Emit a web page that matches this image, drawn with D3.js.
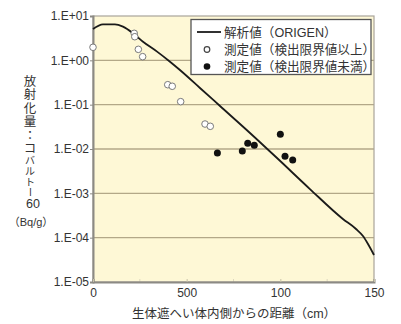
<!DOCTYPE html>
<html><head><meta charset="utf-8">
<script src="https://cdn.jsdelivr.net/npm/d3@7"></script>
<style>
html,body{margin:0;padding:0;background:#fff;}
svg text{font-family:"Liberation Sans","Noto Sans CJK JP",Arial,sans-serif;fill:#333;}
</style></head>
<body>
<svg id="chart" width="401" height="324"></svg>
<script>
// ---- data ----
const xTickValues = [0, 50, 100, 150];
const xTickLabels = ["0", "500", "100", "150"];
const yTickValues = [1e1, 1e0, 1e-1, 1e-2, 1e-3, 1e-4, 1e-5];
const yTickLabels = ["1.E+01", "1.E+00", "1.E-01", "1.E-02", "1.E-03", "1.E-04", "1.E-05"];

// analytical (ORIGEN) curve
const calcX = [0, 5.3, 11.7, 16, 21.4, 26.7, 34.2, 41.1, 46.4, 57.1, 67.8, 83.8, 98.8, 115.8, 133.4, 140.4, 144.1, 146.8, 150];
const calcY = [5.09, 6.5, 6.5, 5.74, 4.07, 2.63, 1.57, 0.93, 0.605, 0.238, 0.0933, 0.023, 0.00594, 0.00125, 0.000264, 0.000157, 0.000109, 0.000072, 0.0000406];

// measured (above detection limit) - open circles
const openX = [0, 22.0, 22.3, 24.2, 26.5, 39.9, 42.3, 46.8, 59.8, 62.6];
const openY = [1.97, 4.07, 3.41, 1.77, 1.21, 0.282, 0.26, 0.117, 0.0366, 0.0325];

// measured (below detection limit) - filled circles
const fillX = [66.4, 79.7, 82.6, 86.1, 100.0, 102.5, 106.6];
const fillY = [0.00813, 0.00901, 0.01346, 0.0121, 0.0215, 0.00684, 0.00565];

const legendLabels = ["解析値（ORIGEN）", "測定値（検出限界値以上）", "測定値（検出限界値未満）"];
const xTitle = "生体遮へい体内側からの距離（cm）";
const yTitleChars = ["放", "射", "化", "量", "：", "コ", "バ", "ル", "ト", "ー"];
const yTitleNum = "60";
const yTitleUnit = "（Bq/g）";

// ---- layout ----
const svg = d3.select("#chart");
const L = 93, R = 374, T = 16, B = 282;
const x = d3.scaleLinear().domain([0, 150]).range([L, R]);
const y = d3.scaleLog().domain([1e-5, 1e1]).range([B, T]);

// plot background
svg.append("rect").attr("x", L).attr("y", T).attr("width", R - L).attr("height", B - T)
  .attr("fill", "#fef8d6");

// horizontal grid
svg.append("g").selectAll("line").data(yTickValues.slice(1, -1)).join("line")
  .attr("x1", L).attr("x2", R).attr("y1", d => y(d)).attr("y2", d => y(d))
  .attr("stroke", "#b3a888").attr("stroke-width", 1.3);

// minor x ticks inside (faint)
svg.append("g").selectAll("line").data([25, 75, 125]).join("line")
  .attr("x1", d => x(d)).attr("x2", d => x(d)).attr("y1", B).attr("y2", B - 3)
  .attr("stroke", "#ddd7be").attr("stroke-width", 1);

// frame (top/right)
svg.append("rect").attr("x", L).attr("y", T).attr("width", R - L).attr("height", B - T)
  .attr("fill", "none").attr("stroke", "#a8a49a").attr("stroke-width", 1.2);

// axes
const yAxis = d3.axisLeft(y).tickValues(yTickValues)
  .tickFormat((d, i) => yTickLabels[i]).tickSize(3).tickPadding(1);
const gy = svg.append("g").attr("transform", `translate(${L},0)`).call(yAxis);
gy.select(".domain").attr("stroke", "#8c8a84").attr("stroke-width", 2);
gy.selectAll(".tick line").attr("stroke", "#8c8a84");
gy.selectAll(".tick text").attr("font-size", 12).attr("fill", "#333");

const xAxis = d3.axisBottom(x).tickValues(xTickValues)
  .tickFormat((d, i) => xTickLabels[i]).tickSize(-3).tickPadding(6);
const gx = svg.append("g").attr("transform", `translate(0,${B})`).call(xAxis);
gx.select(".domain").attr("stroke", "#8c8a84").attr("stroke-width", 2);
gx.selectAll(".tick line").attr("stroke", "#c8c2a8");
gx.selectAll(".tick text").attr("font-size", 12).attr("fill", "#333");

// calc line
const calc = calcX.map((d, i) => [d, calcY[i]]);
svg.append("path").datum(calc)
  .attr("d", d3.line().x(d => x(d[0])).y(d => y(d[1])).curve(d3.curveMonotoneX))
  .attr("fill", "none").attr("stroke", "#1a1a1a").attr("stroke-width", 1.8);

// open points
svg.append("g").selectAll("circle").data(openX.map((d, i) => [d, openY[i]])).join("circle")
  .attr("cx", d => x(d[0])).attr("cy", d => y(d[1])).attr("r", 3.3)
  .attr("fill", "#fff").attr("stroke", "#7a7a7a").attr("stroke-width", 1);

// filled points
svg.append("g").selectAll("circle").data(fillX.map((d, i) => [d, fillY[i]])).join("circle")
  .attr("cx", d => x(d[0])).attr("cy", d => y(d[1])).attr("r", 3.5)
  .attr("fill", "#111");

// legend
const lg = svg.append("g");
lg.append("rect").attr("x", 191).attr("y", 19.5).attr("width", 180).attr("height", 55)
  .attr("fill", "#fff").attr("stroke", "#555").attr("stroke-width", 1.3);
const rowY = [32, 49.5, 66.5];
lg.append("line").attr("x1", 197).attr("x2", 221).attr("y1", rowY[0]).attr("y2", rowY[0])
  .attr("stroke", "#1a1a1a").attr("stroke-width", 1.8);
lg.append("circle").attr("cx", 207).attr("cy", rowY[1]).attr("r", 2.8)
  .attr("fill", "#fff").attr("stroke", "#444").attr("stroke-width", 1.2);
lg.append("circle").attr("cx", 207).attr("cy", rowY[2]).attr("r", 3.3).attr("fill", "#111");
lg.selectAll("text.leg").data(legendLabels).join("text").attr("class", "leg")
  .attr("x", 224).attr("y", (d, i) => rowY[i]).attr("dy", "0.36em")
  .attr("font-size", 12.6).text(d => d);

// x title
svg.append("text").attr("x", (L + R) / 2 + 0.5).attr("y", 313).attr("dy", "0.36em")
  .attr("text-anchor", "middle").attr("font-size", 12.5).text(xTitle);

// y title (vertical)
const yPos = [81, 94.5, 108, 121.5, 135, 148.5, 160.5, 171.5, 182, 192];
const ySize = [12.5, 12.5, 12.5, 12.5, 12.5, 12.5, 10, 10, 10, 10];
const yt = svg.append("g");
yt.selectAll("text").data(yTitleChars).join("text")
  .attr("x", 30).attr("y", (d, i) => yPos[i]).attr("dy", "0.36em")
  .attr("text-anchor", "middle").attr("font-size", (d, i) => ySize[i])
  .attr("transform", (d, i) => d === "ー" ? `rotate(90,30,${yPos[i]})` : null)
  .text(d => d);
yt.append("text").attr("x", 33).attr("y", 203).attr("dy", "0.36em")
  .attr("text-anchor", "middle").attr("font-size", 12.5).text(yTitleNum);
yt.append("text").attr("x", 31).attr("y", 222).attr("dy", "0.36em")
  .attr("text-anchor", "middle").attr("font-size", 11).text(yTitleUnit);
</script>
</body></html>
